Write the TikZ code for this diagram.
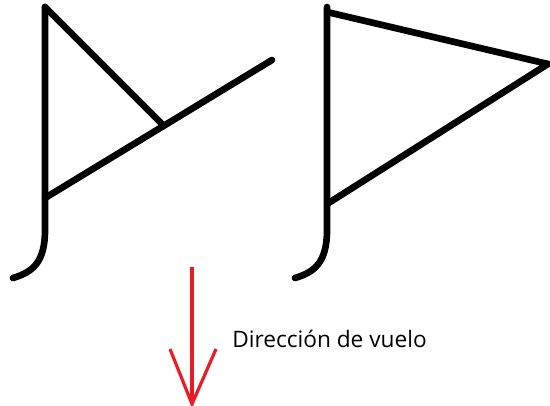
\documentclass[tikz,border=0pt]{standalone}
\usepackage{fontspec}
\setmainfont{Open Sans}
\usetikzlibrary{arrows.meta}
\definecolor{paintred}{RGB}{237,28,36}

\begin{document}
\begin{tikzpicture}[x=0.75pt,y=-0.75pt]
  \useasboundingbox (0,0) rectangle (550,406);
  \tikzset{flag/.style={line width=5pt,line cap=round,line join=miter}}
  \coordinate (l0) at (45,7);
  \coordinate (l1) at (45,230);
  \coordinate (l2) at (13,278);
  \coordinate (lk) at (163,125);
  \coordinate (lb) at (45,198);
  \coordinate (le) at (272,60);
  \coordinate (r0) at (327,7);
  \coordinate (r1) at (327,230);
  \coordinate (r2) at (295,278);
  \coordinate (rt) at (327,12);
  \coordinate (rp) at (548,64);
  \coordinate (rb) at (327,204);
  \draw[flag] (l0) -- (l1) .. controls (45,262) and (33,272) .. (l2);
  \draw[flag] (l0) -- (lk);
  \draw[flag] (lb) -- (le);
  \draw[flag] (r0) -- (r1) .. controls (327,262) and (315,272) .. (r2);
  \draw[flag] (rt) -- (rp) -- (rb);
  \coordinate (a0) at (192,267);
  \coordinate (a1) at (192,404);
  \coordinate (aw) at (170,349);
  \coordinate (ae) at (216,349);
  \draw[paintred,line width=2.4pt] (a0) -- (a1);
  \draw[paintred,line width=2.4pt] (aw) -- (a1) -- (ae);
  \node[anchor=base west,inner sep=0pt,font=\fontsize{17pt}{20pt}\selectfont] (dir) at (232,347) {Dirección de vuelo};
\end{tikzpicture}
\end{document}
